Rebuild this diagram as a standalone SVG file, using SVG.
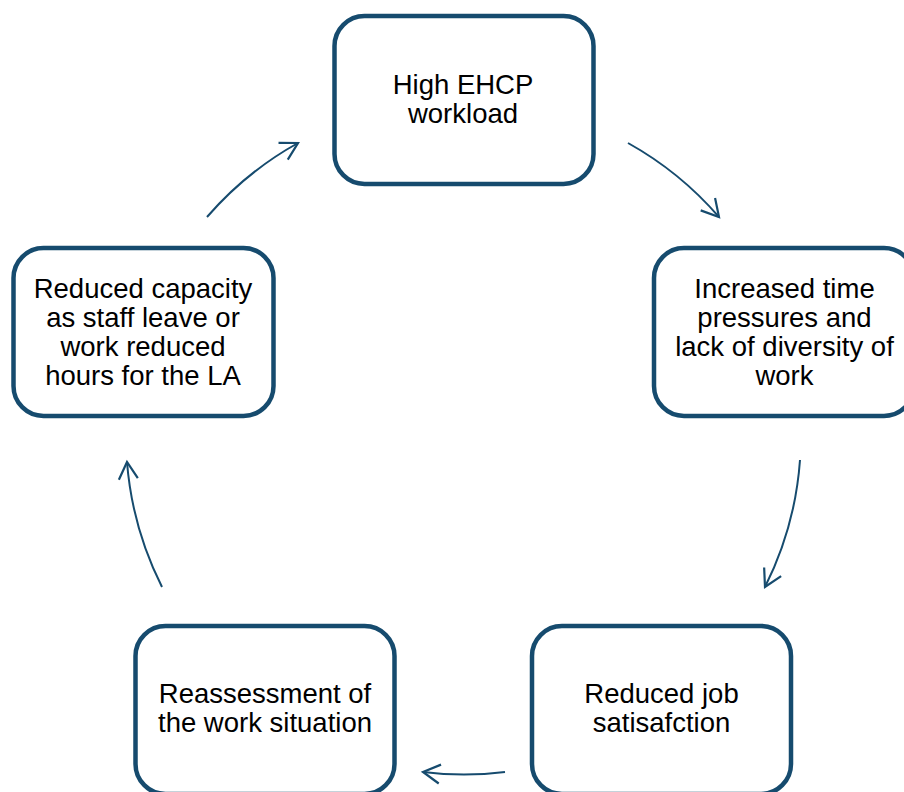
<svg xmlns="http://www.w3.org/2000/svg" width="904" height="792" viewBox="0 0 904 792">
<style>
.box{fill:#fff;stroke:#164B6E;stroke-width:4.5}
.lbl{font-family:"Liberation Sans",Arial,sans-serif;font-size:27.5px;fill:#000;text-anchor:middle}
.arc{fill:none;stroke:#164B6E;stroke-width:2}
</style>
<defs>
<marker id="ah" markerUnits="userSpaceOnUse" markerWidth="24" markerHeight="24" viewBox="-20 -12 24 24" refX="0" refY="0" orient="auto">
<path d="M -17 -9.5 L 0 0 L -17 9.5" fill="none" stroke="#164B6E" stroke-width="2.2" stroke-linejoin="miter"/>
</marker>
</defs>
<rect width="904" height="792" fill="#fff"/>
<g id="connectors">
<path class="arc" d="M 628 143 A 337 337 0 0 1 719 217" marker-end="url(#ah)"/>
<path class="arc" d="M 800 460 A 337 337 0 0 1 765 587" marker-end="url(#ah)"/>
<path class="arc" d="M 505 772 A 337 337 0 0 1 423 772" marker-end="url(#ah)"/>
<path class="arc" d="M 162 587 A 337 337 0 0 1 127 462" marker-end="url(#ah)"/>
<path class="arc" d="M 207 217 A 337 337 0 0 1 298 143" marker-end="url(#ah)"/>
</g>
<g id="node-high-ehcp">
<rect class="box" x="334.5" y="16" width="259" height="168" rx="30"/>
<text class="lbl" x="463" y="93.5">High EHCP</text>
<text class="lbl" x="463" y="122.5">workload</text>
</g>
<g id="node-time-pressures">
<rect class="box" x="654" y="248" width="260" height="168" rx="30"/>
<text class="lbl" x="784.5" y="297.5">Increased time</text>
<text class="lbl" x="784.5" y="326.5">pressures and</text>
<text class="lbl" x="784.5" y="355.5">lack of diversity of</text>
<text class="lbl" x="784.5" y="384.5">work</text>
</g>
<g id="node-job-satisfaction">
<rect class="box" x="532" y="626" width="259" height="168" rx="30"/>
<text class="lbl" x="661.5" y="703">Reduced job</text>
<text class="lbl" x="661.5" y="732">satisafction</text>
</g>
<g id="node-reassessment">
<rect class="box" x="135.5" y="626" width="259" height="168" rx="30"/>
<text class="lbl" x="265" y="703">Reassessment of</text>
<text class="lbl" x="265" y="732">the work situation</text>
</g>
<g id="node-reduced-capacity">
<rect class="box" x="13.5" y="248" width="260" height="168" rx="30"/>
<text class="lbl" x="143" y="297.5">Reduced capacity</text>
<text class="lbl" x="143" y="326.5">as staff leave or</text>
<text class="lbl" x="143" y="355.5">work reduced</text>
<text class="lbl" x="143" y="384.5">hours for the LA</text>
</g>
</svg>
